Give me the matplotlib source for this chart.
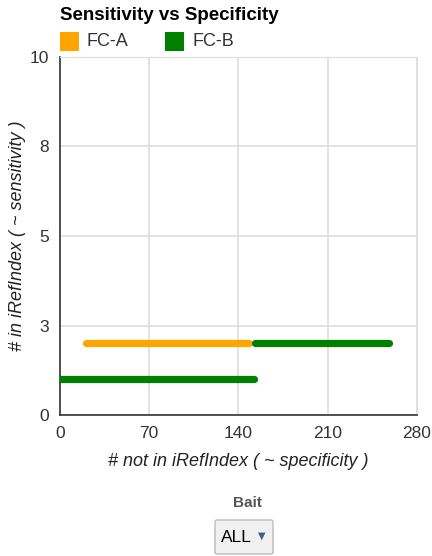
import matplotlib

matplotlib.use("Agg")
import matplotlib.pyplot as plt
from matplotlib.patches import Rectangle, FancyBboxPatch

plt.rcParams["font.family"] = ["Liberation Sans", "DejaVu Sans"]

# data
series_names = ["FC-A", "FC-B"]
series_colors = ["#ffa500", "#008000"]
fca_x = [20, 148]
fca_y = [2, 2]
fcb_low_x = [1, 152]
fcb_low_y = [1, 1]
fcb_high_x = [153, 258]
fcb_high_y = [2, 2]
x_ticks = [0, 70, 140, 210, 280]
y_ticks = [0, 2.5, 5, 7.5, 10]
y_tick_labels = ["0", "3", "5", "8", "10"]

W, H = 432, 556
fig = plt.figure(figsize=(W / 100, H / 100), dpi=100)
ax = fig.add_axes([60 / W, 1 - 415 / H, 357 / W, 358 / H])

lw = 5.2
ax.plot(fca_x, fca_y, color=series_colors[0], lw=lw, solid_capstyle="round", zorder=3)
ax.plot(fcb_low_x, fcb_low_y, color=series_colors[1], lw=lw, solid_capstyle="round", zorder=4)
ax.plot(fcb_high_x, fcb_high_y, color=series_colors[1], lw=lw, solid_capstyle="round", zorder=4)

ax.set_xlim(0, 280)
ax.set_ylim(0, 10)
ax.set_xticks(x_ticks)
ax.set_yticks(y_ticks)
ax.set_yticklabels(y_tick_labels)
ax.grid(True, color="#dddddd", lw=1.2)
ax.set_axisbelow(True)
ax.tick_params(length=0, labelsize=12.5, colors="#333333")
ax.tick_params(axis="y", pad=8)
ax.tick_params(axis="x", pad=8)
for side in ["top", "right"]:
    ax.spines[side].set_color("#dddddd")
for side in ["left", "bottom"]:
    ax.spines[side].set_color("#333333")
    ax.spines[side].set_linewidth(1.2)

ax.set_xlabel("# not in iRefIndex ( ~ specificity )", fontstyle="italic", fontsize=13,
              color="#222222")
ax.set_ylabel("# in iRefIndex ( ~ sensitivity )", fontstyle="italic", fontsize=13,
              color="#222222")
ax.xaxis.set_label_coords(0.5, (415 - 462) / 358, transform=ax.transAxes)
ax.yaxis.set_label_coords((17 - 60) / 357, 0.5, transform=ax.transAxes)
ax.xaxis.label.set_va("center")
ax.yaxis.label.set_va("center")

fig.text(60 / W, 1 - 15 / H, "Sensitivity vs Specificity", fontsize=13.5, fontweight="bold",
         va="center", ha="left", color="#000000")

# legend boxes
for i, (name, col) in enumerate(zip(series_names, series_colors)):
    x0 = [60, 165][i]
    fig.patches.append(Rectangle((x0 / W, 1 - 51 / H), 19 / W, 19 / H, transform=fig.transFigure,
                                 facecolor=col, edgecolor="none"))
    fig.text((x0 + 27) / W, 1 - 41 / H, name, fontsize=13, va="center", ha="left", color="#333333")

# bait selector
fig.text(247 / W, 1 - 503 / H, "Bait", fontsize=11, fontweight="bold", ha="center", va="center",
         color="#555555")
fig.patches.append(FancyBboxPatch((215 / W, 1 - 554 / H), 58 / W, 34 / H, transform=fig.transFigure,
                                  boxstyle="round,pad=0,rounding_size=0.004",
                                  facecolor="#f0f0f0", edgecolor="#bbbbbb", lw=1))
fig.text(236 / W, 1 - 538 / H, "ALL", fontsize=12.5, ha="center", va="center", color="#000000")
fig.text(262 / W, 1 - 536 / H, "\u25bc", fontsize=7, ha="center", va="center", color="#3a5f96",
         family=["DejaVu Sans"])

fig.savefig("out.png", dpi=100)
